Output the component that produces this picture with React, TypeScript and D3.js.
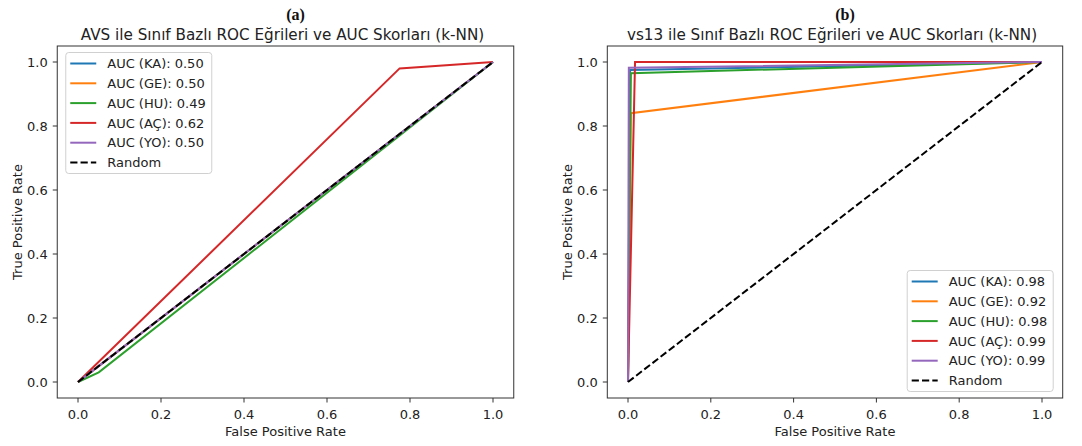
import React from 'react';
import * as d3 from 'd3';

const classes = ['KA', 'GE', 'HU', 'AÇ', 'YO'];
const colors = ['#1f77b4', '#ff7f0e', '#2ca02c', '#d62728', '#9467bd'];

// AVS panel
const avsAuc = [0.5, 0.5, 0.49, 0.62, 0.5];
const avsFpr = [[0, 0.02, 1], [0, 0.02, 1], [0, 0.05, 1], [0, 0.775, 1], [0, 0.02, 1]];
const avsTpr = [[0, 0.02, 1], [0, 0.02, 1], [0, 0.03, 1], [0, 0.98, 1], [0, 0.02, 1]];

// vs13 panel
const vsAuc = [0.98, 0.92, 0.98, 0.99, 0.99];
const vsFpr = [[0, 0.005, 1], [0, 0.007, 1], [0, 0.007, 1], [0, 0.017, 1], [0, 0.002, 1]];
const vsTpr = [[0, 0.975, 1], [0, 0.84, 1], [0, 0.965, 1], [0, 1.0, 1], [0, 0.982, 1]];

const ticks = [0, 0.2, 0.4, 0.6, 0.8, 1.0];

const FONT = 'DejaVu Sans, sans-serif';
const INK = '#222';
const FS = 13;
const LW = 2;
const DASH = '7.2,3.1';

type PanelProps = {
  left: number;
  right: number;
  letter: string;
  title: string;
  auc: number[];
  fpr: number[][];
  tpr: number[][];
  legendPos: 'upper left' | 'lower right';
};

const Panel = ({ left, right, letter, title, auc, fpr, tpr, legendPos }: PanelProps) => {
  const top = 46;
  const bottom = 398;
  const x = d3.scaleLinear().domain([-0.05, 1.05]).range([left, right]);
  const y = d3.scaleLinear().domain([-0.05, 1.05]).range([bottom, top]);
  const line = d3.line<[number, number]>().x(d => x(d[0])).y(d => y(d[1]));
  const cx = (left + right) / 2;

  const labels = classes.map((c, i) => `AUC (${c}): ${auc[i].toFixed(2)}`);
  const legendW = 146;
  const rowH = 19.8;
  const legendH = 121;
  const pad = 6.5;
  const lx = legendPos === 'upper left' ? left + pad + 2 : right - pad - legendW - 3;
  const ly = legendPos === 'upper left' ? top + pad : bottom - pad - legendH;

  return (
    <g>
      <text x={cx + 10} y={20} textAnchor="middle" fontFamily="Liberation Serif, serif"
        fontWeight="bold" fontSize={16} fill="#111">{letter}</text>
      <text x={cx - 3} y={40} textAnchor="middle" fontFamily={FONT} fontSize={15.2} fill={INK}>{title}</text>

      {/* curves */}
      {classes.map((c, i) => (
        <path key={c}
          d={line(fpr[i].map((v, j) => [v, tpr[i][j]] as [number, number])) || ''}
          fill="none" stroke={colors[i]} strokeWidth={LW} />
      ))}
      <path d={line([[0, 0], [1, 1]]) || ''} fill="none" stroke="#000" strokeWidth={LW}
        strokeDasharray={DASH} />

      {/* frame */}
      <rect x={left} y={top} width={right - left} height={bottom - top}
        fill="none" stroke="#333" strokeWidth={1} />

      {/* x ticks */}
      {ticks.map(t => (
        <g key={'x' + t}>
          <line x1={x(t)} x2={x(t)} y1={bottom} y2={bottom + 4.5} stroke="#333" />
          <text x={x(t)} y={bottom + 21} textAnchor="middle" fontFamily={FONT} fontSize={FS} fill={INK}>
            {t.toFixed(1)}
          </text>
        </g>
      ))}
      {/* y ticks */}
      {ticks.map(t => (
        <g key={'y' + t}>
          <line x1={left - 4.5} x2={left} y1={y(t)} y2={y(t)} stroke="#333" />
          <text x={left - 9.5} y={y(t) + 4.7} textAnchor="end" fontFamily={FONT} fontSize={FS} fill={INK}>
            {t.toFixed(1)}
          </text>
        </g>
      ))}

      <text x={cx} y={436} textAnchor="middle" fontFamily={FONT} fontSize={FS} fill={INK}>False Positive Rate</text>
      <text transform={`translate(${left - 35},${(top + bottom) / 2}) rotate(-90)`} textAnchor="middle"
        fontFamily={FONT} fontSize={FS} fill={INK}>True Positive Rate</text>

      {/* legend */}
      <g transform={`translate(${lx},${ly})`}>
        <rect x={0} y={0} width={legendW} height={legendH} rx={3} fill="#fff" fillOpacity={0.8}
          stroke="#d0d0d0" strokeWidth={1} />
        {labels.concat(['Random']).map((lab, i) => {
          const ry = 11 + i * rowH;
          return (
            <g key={lab}>
              <line x1={4.5} x2={30.5} y1={ry} y2={ry}
                stroke={i < classes.length ? colors[i] : '#000'} strokeWidth={LW}
                strokeDasharray={i < classes.length ? undefined : DASH} />
              <text x={41.5} y={ry + 4.7} fontFamily={FONT} fontSize={FS} fill={INK}>{lab}</text>
            </g>
          );
        })}
      </g>
    </g>
  );
};

export default function App() {
  return (
    <svg width={1082} height={446} style={{ position: 'absolute', left: 0, top: 0, background: '#fff' }}>
      <rect width={1082} height={446} fill="#fff" />
      <Panel left={57.25} right={513.75} letter="(a)"
        title="AVS ile Sınıf Bazlı ROC Eğrileri ve AUC Skorları (k-NN)"
        auc={avsAuc} fpr={avsFpr} tpr={avsTpr} legendPos="upper left" />
      <Panel left={607.3} right={1062.7} letter="(b)"
        title="vs13 ile Sınıf Bazlı ROC Eğrileri ve AUC Skorları (k-NN)"
        auc={vsAuc} fpr={vsFpr} tpr={vsTpr} legendPos="lower right" />
    </svg>
  );
}
